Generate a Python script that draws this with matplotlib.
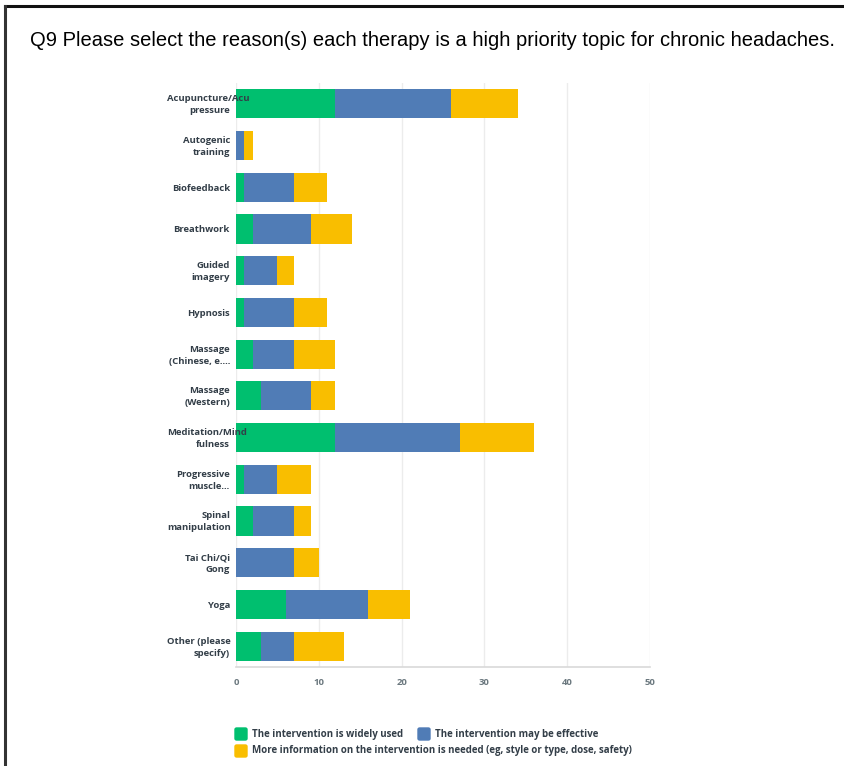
import matplotlib
matplotlib.use("Agg")
import matplotlib.pyplot as plt
import matplotlib.transforms as mtransforms
from matplotlib.patches import FancyBboxPatch
from matplotlib.lines import Line2D
import numpy as np

# data
therapies = ["Acupuncture/Acu\npressure", "Autogenic\ntraining", "Biofeedback",
             "Breathwork", "Guided\nimagery", "Hypnosis", "Massage\n(Chinese, e....",
             "Massage\n(Western)", "Meditation/Mind\nfulness", "Progressive\nmuscle...",
             "Spinal\nmanipulation", "Tai Chi/Qi\nGong", "Yoga", "Other (please\nspecify)"]
widely_used = [12, 0, 1, 2, 1, 1, 2, 3, 12, 1, 2, 0, 6, 3]
may_be_effective = [14, 1, 6, 7, 4, 6, 5, 6, 15, 4, 5, 7, 10, 4]
more_info = [8, 1, 4, 5, 2, 4, 5, 3, 9, 4, 2, 3, 5, 6]
series_names = ["The intervention is widely used",
                "The intervention may be effective",
                "More information on the intervention is needed (eg, style or type, dose, safety)"]
xticks = [0, 10, 20, 30, 40, 50]

green = "#00bf6f"
blue = "#507cb6"
yellow = "#f9be00"
txt = "#333e48"
lab_font = "Open Sans"

W, H = 844, 766
fig = plt.figure(figsize=(W/100, H/100), dpi=100)
fig.patch.set_facecolor("white")

ax = fig.add_axes([236/W, 1-667/H, 414/W, 584/H])
y = np.arange(len(therapies))
a = np.array(widely_used)
b = np.array(may_be_effective)
c = np.array(more_info)
ax.barh(y, a, height=0.7, color=green, zorder=3)
ax.barh(y, b, left=a, height=0.7, color=blue, zorder=3)
ax.barh(y, c, left=a+b, height=0.7, color=yellow, zorder=3)

ax.set_xlim(0, 50)
ax.set_ylim(len(therapies)-0.5, -0.5)
ax.set_xticks(xticks)
ax.set_xticklabels([str(t) for t in xticks], fontsize=6.8, color="#6b787f",
                   fontfamily=lab_font, fontweight="bold")
ax.set_yticks(y)
ax.set_yticklabels([])
ax.tick_params(axis="both", length=0)
ax.tick_params(axis="x", pad=8)
ax.grid(axis="x", color="#ececec", lw=1, zorder=0)
for s in ["top", "right", "left"]:
    ax.spines[s].set_visible(False)
ax.spines["bottom"].set_color("#d9d9d9")
ax.spines["bottom"].set_linewidth(1.2)

# category labels: lines right aligned, lines too long for the box start at its left edge
box_right, box_left = 230, 167
blend = mtransforms.blended_transform_factory(fig.transFigure, ax.transData)
renderer = fig.canvas.get_renderer()
for i, lab in enumerate(therapies):
    lines = lab.split("\n")
    offs = [-1] if len(lines) == 1 else [5, -7]
    for ln, off in zip(lines, offs):
        tr = mtransforms.offset_copy(blend, fig=fig, y=off, units="dots")
        t = ax.text(box_right/W, i, ln, transform=tr, ha="right", va="center",
                    fontsize=6.8, color=txt, fontfamily=lab_font, fontweight="bold",
                    clip_on=False, zorder=5)
        ext = t.get_window_extent(renderer)
        if ext.x0 < box_left:
            t.set_x(box_left/W)
            t.set_ha("left")

# legend drawn by hand (flow layout)
def legend_item(x, yc, color, label):
    fig.patches.append(FancyBboxPatch((x/W, (H-yc-6)/H), 12/W, 12/H,
                                      boxstyle="round,pad=0,rounding_size=0.002",
                                      transform=fig.transFigure, color=color))
    fig.text((x+17)/W, 1-yc/H, label, fontsize=7.0, color=txt, fontfamily=lab_font,
             fontweight="bold", va="center", ha="left")

legend_item(235, 734, green, series_names[0])
legend_item(418, 734, blue, series_names[1])
legend_item(235, 751, yellow, series_names[2])

fig.text(30/W, 1-40/H, "Q9 Please select the reason(s) each therapy is a high priority topic for chronic headaches.",
         fontsize=14.5, fontfamily="Liberation Sans", color="black", va="center", ha="left")

# frame lines of the screenshot
fig.add_artist(Line2D([4.5/W, 1], [1-6/H, 1-6/H], color="#111111", lw=2.2, transform=fig.transFigure))
fig.add_artist(Line2D([4.5/W, 4.5/W], [0, 1-6/H], color="#333333", lw=2.2, transform=fig.transFigure))

fig.savefig("out.png", dpi=100)
